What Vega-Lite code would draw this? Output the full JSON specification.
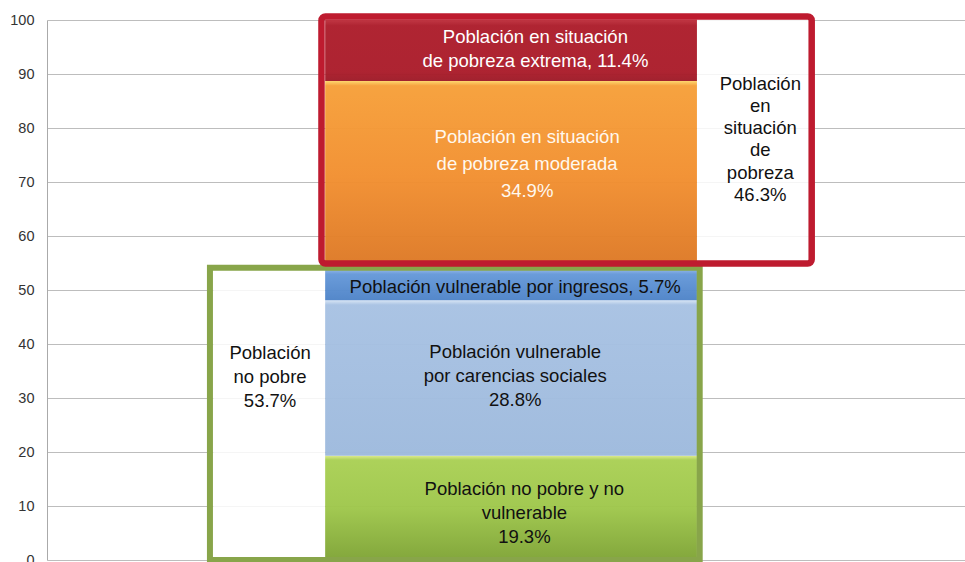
{
  "$schema": "https://vega.github.io/schema/vega-lite/v6.json",
  "width": 918,
  "height": 540,
  "autosize": "none",
  "padding": {"left": 47, "top": 20, "right": 0, "bottom": 2},
  "background": "white",
  "config": {"view": {"stroke": null}},
  "datasets": {
    "segs": [
      {"seg": "no pobre y no vulnerable", "lo": 0, "hi": 19.3, "x0": 30.3, "x1": 70.8},
      {"seg": "carencias", "lo": 19.3, "hi": 48.1, "x0": 30.3, "x1": 70.8},
      {"seg": "ingresos", "lo": 48.1, "hi": 53.8, "x0": 30.3, "x1": 70.8},
      {"seg": "moderada", "lo": 53.8, "hi": 88.7, "x0": 30.3, "x1": 70.8},
      {"seg": "extrema", "lo": 88.7, "hi": 100.1, "x0": 30.3, "x1": 70.8}
    ],
    "boxes": [
      {"box": "no pobre", "lo": 0, "hi": 53.7, "x0": 18.1, "x1": 30.3},
      {"box": "pobreza", "lo": 53.8, "hi": 100, "x0": 70.8, "x1": 83.1}
    ],
    "frames": [
      {"frame": "no pobre", "lo": 0, "hi": 54.1, "x0": 17.75, "x1": 71.1},
      {"frame": "pobreza", "lo": 54.9, "hi": 100.65, "x0": 29.9, "x1": 83.3}
    ],
    "labels": [
      {"seg": "extrema", "x": 53.2, "y": 96.8, "text": ["Población en situación", "   de pobreza extrema, 11.4%"]},
      {"seg": "moderada", "x": 52.3, "y": 78.3, "text": ["Población en situación", "de pobreza moderada", "34.9%"]},
      {"seg": "pobreza", "x": 77.7, "y": 88.2, "text": ["Población", "en", "situación", "de", "pobreza", "46.3%"]},
      {"seg": "ingresos", "x": 51.0, "y": 50.5, "text": ["Población vulnerable por ingresos, 5.7%"]},
      {"seg": "carencias", "x": 51.0, "y": 38.6, "text": ["Población vulnerable", "por carencias sociales", "28.8%"]},
      {"seg": "no pobre y no vulnerable", "x": 52.0, "y": 13.1, "text": ["Población no pobre y no", "vulnerable", "19.3%"]},
      {"seg": "no pobre", "x": 24.3, "y": 38.4, "text": ["Población", "no pobre", " 53.7%"]}
    ]
  },
  "layer": [
    {
      "data": {"name": "boxes"},
      "mark": {"type": "rect", "fill": "white", "opacity": 0.85},
      "encoding": {
        "x": {"field": "x0", "type": "quantitative", "scale": {"domain": [0, 100]}, "axis": null},
        "x2": {"field": "x1"},
        "y": {"field": "lo", "type": "quantitative", "scale": {"domain": [0, 100]},
          "axis": {"values": [0,10,20,30,40,50,60,70,80,90,100], "ticks": false, "labelPadding": 13,
            "labelFont": "Liberation Sans", "labelFontSize": 14.5, "labelColor": "#333333",
            "domain": true, "domainColor": "#aaaaaa", "domainWidth": 1,
            "gridColor": "#bdbdbd", "gridWidth": 1, "title": null}},
        "y2": {"field": "hi"}
      }
    },
    {
      "data": {"name": "segs"},
      "transform": [{"filter": "datum.seg === 'no pobre y no vulnerable'"}],
      "mark": {"type": "rect", "opacity": 0.97, "color": {"gradient": "linear", "x1": 0, "y1": 0, "x2": 0, "y2": 1,
        "stops": [{"offset": 0, "color": "#dbe98a"}, {"offset": 0.04, "color": "#aad055"}, {"offset": 0.5, "color": "#9fc74c"}, {"offset": 1, "color": "#7fa436"}]}},
      "encoding": {"x": {"field": "x0", "type": "quantitative"}, "x2": {"field": "x1"}, "y": {"field": "lo", "type": "quantitative"}, "y2": {"field": "hi"}}
    },
    {
      "data": {"name": "segs"},
      "transform": [{"filter": "datum.seg === 'carencias'"}],
      "mark": {"type": "rect", "opacity": 0.97, "color": {"gradient": "linear", "x1": 0, "y1": 0, "x2": 0, "y2": 1,
        "stops": [{"offset": 0, "color": "#d6e4f4"}, {"offset": 0.03, "color": "#a8c2e3"}, {"offset": 1, "color": "#9ebadd"}]}},
      "encoding": {"x": {"field": "x0", "type": "quantitative"}, "x2": {"field": "x1"}, "y": {"field": "lo", "type": "quantitative"}, "y2": {"field": "hi"}}
    },
    {
      "data": {"name": "segs"},
      "transform": [{"filter": "datum.seg === 'ingresos'"}],
      "mark": {"type": "rect", "opacity": 0.97, "color": {"gradient": "linear", "x1": 0, "y1": 0, "x2": 0, "y2": 1,
        "stops": [{"offset": 0, "color": "#8fb4e6"}, {"offset": 0.15, "color": "#6699d9"}, {"offset": 1, "color": "#4f84c8"}]}},
      "encoding": {"x": {"field": "x0", "type": "quantitative"}, "x2": {"field": "x1"}, "y": {"field": "lo", "type": "quantitative"}, "y2": {"field": "hi"}}
    },
    {
      "data": {"name": "segs"},
      "transform": [{"filter": "datum.seg === 'moderada'"}],
      "mark": {"type": "rect", "opacity": 0.97, "color": {"gradient": "linear", "x1": 0, "y1": 0, "x2": 0, "y2": 1,
        "stops": [{"offset": 0, "color": "#fdd56a"}, {"offset": 0.025, "color": "#f6a03a"}, {"offset": 0.5, "color": "#f29031"}, {"offset": 1, "color": "#dc7826"}]}},
      "encoding": {"x": {"field": "x0", "type": "quantitative"}, "x2": {"field": "x1"}, "y": {"field": "lo", "type": "quantitative"}, "y2": {"field": "hi"}}
    },
    {
      "data": {"name": "segs"},
      "transform": [{"filter": "datum.seg === 'extrema'"}],
      "mark": {"type": "rect", "opacity": 0.97, "color": {"gradient": "linear", "x1": 0, "y1": 0, "x2": 0, "y2": 1,
        "stops": [{"offset": 0, "color": "#c0323f"}, {"offset": 0.1, "color": "#ad1e2c"}, {"offset": 0.85, "color": "#ab1d2b"}, {"offset": 1, "color": "#9e1b28"}]}},
      "encoding": {"x": {"field": "x0", "type": "quantitative"}, "x2": {"field": "x1"}, "y": {"field": "lo", "type": "quantitative"}, "y2": {"field": "hi"}}
    },
    {
      "data": {"name": "frames"},
      "transform": [{"filter": "datum.frame === 'no pobre'"}],
      "mark": {"type": "rect", "fillOpacity": 0, "stroke": "#88a54a", "strokeWidth": 6, "clip": false},
      "encoding": {"x": {"field": "x0", "type": "quantitative"}, "x2": {"field": "x1"}, "y": {"field": "lo", "type": "quantitative"}, "y2": {"field": "hi"}}
    },
    {
      "data": {"name": "frames"},
      "transform": [{"filter": "datum.frame === 'pobreza'"}],
      "mark": {"type": "rect", "fillOpacity": 0, "stroke": "#be1b2f", "strokeWidth": 6.5, "cornerRadius": 4, "clip": false},
      "encoding": {"x": {"field": "x0", "type": "quantitative"}, "x2": {"field": "x1"}, "y": {"field": "lo", "type": "quantitative"}, "y2": {"field": "hi"}}
    },
    {
      "data": {"name": "labels"},
      "transform": [{"filter": "datum.seg !== 'moderada' && datum.seg !== 'pobreza'"}],
      "mark": {"type": "text", "font": "Liberation Sans", "fontSize": 18.5, "lineHeight": 24, "align": "center", "baseline": "middle"},
      "encoding": {
        "x": {"field": "x", "type": "quantitative"},
        "y": {"field": "y", "type": "quantitative"},
        "text": {"field": "text"},
        "color": {"field": "seg", "type": "nominal", "legend": null,
          "scale": {"domain": ["extrema", "moderada", "pobreza", "ingresos", "carencias", "no pobre y no vulnerable", "no pobre"],
                    "range": ["#ffffff", "#fff8ee", "#111111", "#111111", "#111111", "#111111", "#111111"]}}
      }
    },
    {
      "data": {"name": "labels"},
      "transform": [{"filter": "datum.seg === 'moderada'"}],
      "mark": {"type": "text", "font": "Liberation Sans", "fontSize": 18.5, "lineHeight": 27, "align": "center", "baseline": "middle"},
      "encoding": {
        "x": {"field": "x", "type": "quantitative"},
        "y": {"field": "y", "type": "quantitative"},
        "text": {"field": "text"},
        "color": {"field": "seg", "type": "nominal", "legend": null}
      }
    },
    {
      "data": {"name": "labels"},
      "transform": [{"filter": "datum.seg === 'pobreza'"}],
      "mark": {"type": "text", "font": "Liberation Sans", "fontSize": 18.5, "lineHeight": 22.2, "align": "center", "baseline": "middle"},
      "encoding": {
        "x": {"field": "x", "type": "quantitative"},
        "y": {"field": "y", "type": "quantitative"},
        "text": {"field": "text"},
        "color": {"field": "seg", "type": "nominal", "legend": null}
      }
    }
  ]
}
